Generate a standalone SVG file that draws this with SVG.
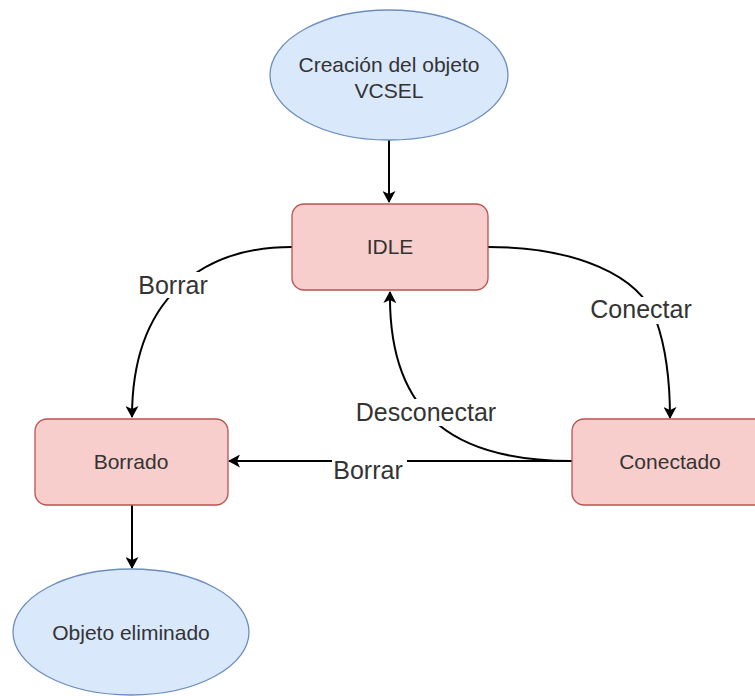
<svg xmlns="http://www.w3.org/2000/svg" width="755" height="696" viewBox="0 0 755 696">
<defs>
<style>
.ell{fill:#dae8fc;stroke:#6c8ebf;stroke-width:1.3}
.box{fill:#f8cecc;stroke:#b85450;stroke-width:1.3}
.nt{font-family:"Liberation Sans",Arial,sans-serif;font-size:21px;fill:#333;text-anchor:middle}
.lt{font-family:"Liberation Sans",Arial,sans-serif;font-size:25px;fill:#333;text-anchor:middle}
.edge{fill:none;stroke:#000;stroke-width:2}
.bg{fill:#fff}
</style>
<marker id="arr" viewBox="0 0 12 13" markerWidth="12" markerHeight="13" refX="11" refY="6.5" orient="auto" markerUnits="userSpaceOnUse">
<path d="M0,0 L12,6.5 L0,13 L3,6.5 z" fill="#000"/>
</marker>
</defs>
<rect width="755" height="696" fill="#fff"/>
<g id="connectors">
<path class="edge" d="M389 140 L389 202" marker-end="url(#arr)"/>
<path class="edge" d="M292 247 C200 247 132 300 132 417" marker-end="url(#arr)"/>
<path class="edge" d="M488 247 C575 247 640 275 656 320 C665 345 670 380 670 418" marker-end="url(#arr)"/>
<path class="edge" d="M572 461 C460 461 388 420 390 292" marker-end="url(#arr)"/>
<path class="edge" d="M572 461 L229 461" marker-end="url(#arr)"/>
<path class="edge" d="M132 505 L132 568" marker-end="url(#arr)"/>
<rect class="bg" x="135" y="272" width="76" height="26"/>
<text class="lt" x="173" y="294">Borrar</text>
<rect class="bg" x="587" y="297" width="108" height="27"/>
<text class="lt" x="641" y="318">Conectar</text>
<rect class="bg" x="352" y="399" width="148" height="27"/>
<text class="lt" x="426" y="421">Desconectar</text>
<rect class="bg" x="332" y="459.5" width="75" height="24"/>
<text class="lt" x="368" y="479">Borrar</text>
</g>
<g id="node-creacion">
<ellipse class="ell" cx="389" cy="75" rx="119" ry="65"/>
<text class="nt" x="389" y="72">Creación del objeto</text>
<text class="nt" x="389" y="98">VCSEL</text>
</g>
<g id="node-idle">
<rect class="box" x="292" y="204" width="196" height="86" rx="12"/>
<text class="nt" x="390" y="254">IDLE</text>
</g>
<g id="node-borrado">
<rect class="box" x="35" y="419" width="193" height="86" rx="12"/>
<text class="nt" x="131" y="469">Borrado</text>
</g>
<g id="node-conectado">
<rect class="box" x="572" y="419" width="196" height="86" rx="12"/>
<text class="nt" x="670" y="469">Conectado</text>
</g>
<g id="node-objeto">
<ellipse class="ell" cx="131" cy="632" rx="118" ry="63"/>
<text class="nt" x="131" y="640">Objeto eliminado</text>
</g>
</svg>
